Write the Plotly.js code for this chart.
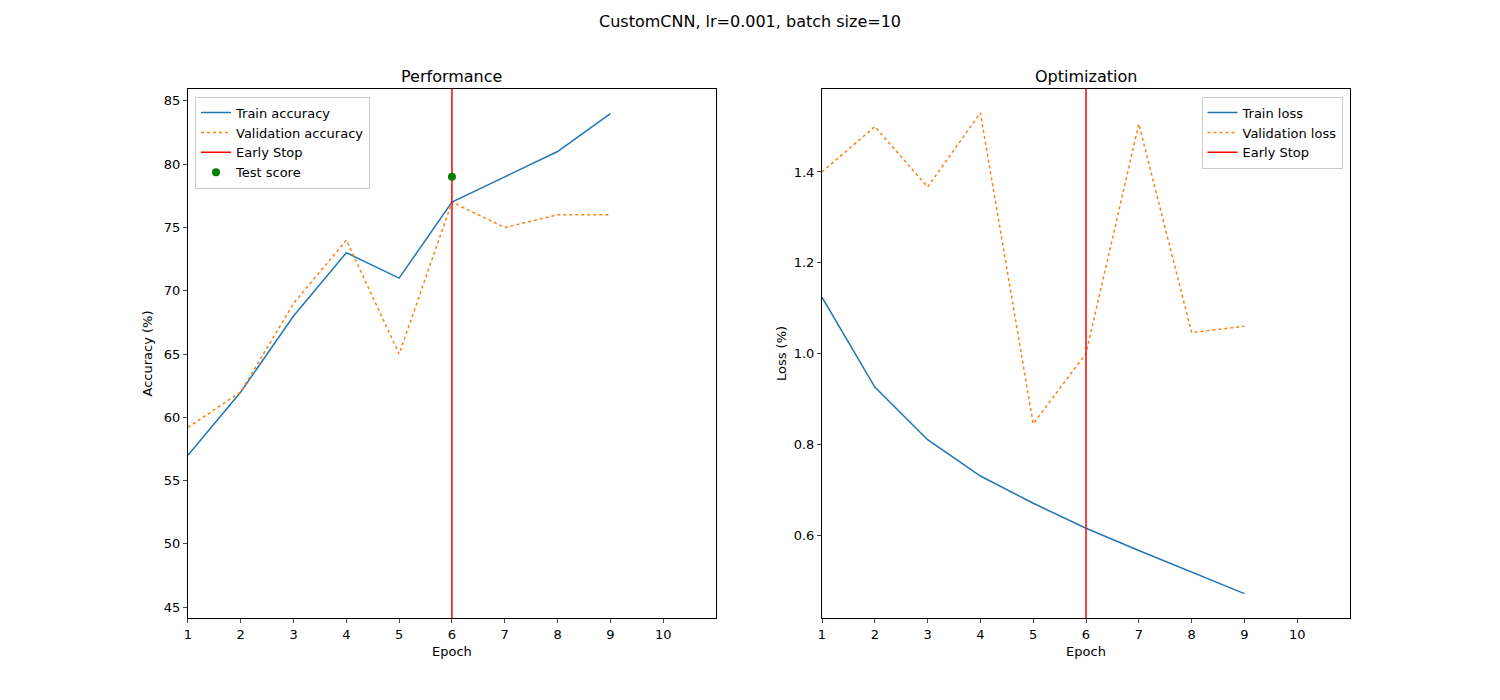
<!DOCTYPE html>
<html><head><script src="https://cdn.plot.ly/plotly-3.0.1.min.js"></script></head>
<body style="margin:0"><div id="chart" style="width:1500px;height:700px"></div>
<script>
var epochs = [1, 2, 3, 4, 5, 6, 7, 8, 9];
var trainAcc = [57, 62, 68, 73, 71, 77, 79, 81, 84];
var valAcc = [59.2, 62, 69, 74, 65, 77, 75, 76, 76];
var trainLoss = [1.124, 0.926, 0.81, 0.73, 0.67, 0.615, 0.566, 0.519, 0.471];
var valLoss = [1.40, 1.50, 1.367, 1.53, 0.845, 1.0, 1.506, 1.046, 1.06];
var earlyStop = 6;
var testScore = 79;

var blue = '#1f77b4', orange = '#ff7f0e';
var data = [
  {x: epochs, y: trainAcc, name: 'Train accuracy', mode: 'lines', line: {color: blue, width: 1.5}, legend: 'legend'},
  {x: epochs, y: valAcc, name: 'Validation accuracy', mode: 'lines', line: {color: orange, width: 1.5, dash: 'dot'}, legend: 'legend'},
  {x: [earlyStop, earlyStop], y: [40, 90], name: 'Early Stop', mode: 'lines', line: {color: 'red', width: 1.5}, legend: 'legend'},
  {x: [earlyStop], y: [testScore], name: 'Test score', mode: 'markers', marker: {color: 'green', size: 8}, legend: 'legend'},
  {x: epochs, y: trainLoss, name: 'Train loss', mode: 'lines', line: {color: blue, width: 1.5}, xaxis: 'x2', yaxis: 'y2', legend: 'legend2'},
  {x: epochs, y: valLoss, name: 'Validation loss', mode: 'lines', line: {color: orange, width: 1.5, dash: 'dot'}, xaxis: 'x2', yaxis: 'y2', legend: 'legend2'},
  {x: [earlyStop, earlyStop], y: [0, 2], name: 'Early Stop', mode: 'lines', line: {color: 'red', width: 1.5}, xaxis: 'x2', yaxis: 'y2', legend: 'legend2'}
];
var ax = {showgrid: false, zeroline: false, showline: true, mirror: true, linecolor: 'black', ticks: 'outside', ticklen: 4, tickfont: {size: 13}};
var xticks = [1,2,3,4,5,6,7,8,9,10];
var leg = {bgcolor: 'white', bordercolor: '#ccc', borderwidth: 1, font: {size: 13}, tracegroupgap: 0};
var layout = {
  font: {family: 'DejaVu Sans', color: 'black'},
  margin: {l: 0, r: 0, t: 0, b: 0},
  paper_bgcolor: 'white', plot_bgcolor: 'white',
  showlegend: true,
  title: {text: 'CustomCNN, lr=0.001, batch size=10', x: 0.5, y: 0.969, yanchor: 'middle', font: {size: 16}},
  xaxis: Object.assign({}, ax, {domain: [0.1253, 0.4773], range: [1, 11], tickvals: xticks, title: {text: 'Epoch', font: {size: 13}, standoff: 6}}),
  yaxis: Object.assign({}, ax, {domain: [0.117, 0.873], range: [44.13, 85.95], dtick: 5, title: {text: 'Accuracy (%)', font: {size: 13}}}),
  xaxis2: Object.assign({}, ax, {anchor: 'y2', domain: [0.548, 0.9], range: [1, 11], tickvals: xticks, title: {text: 'Epoch', font: {size: 13}, standoff: 6}}),
  yaxis2: Object.assign({}, ax, {anchor: 'x2', domain: [0.117, 0.873], range: [0.417, 1.583], dtick: 0.2, tickformat: '.1f', title: {text: 'Loss (%)', font: {size: 13}}}),
  legend: Object.assign({}, leg, {x: 0.1300, y: 0.862, xanchor: 'left', yanchor: 'top'}),
  legend2: Object.assign({}, leg, {x: 0.895, y: 0.862, xanchor: 'right', yanchor: 'top'}),
  annotations: [
    {text: 'Performance', xref: 'paper', yref: 'paper', x: 0.3013, y: 0.875, xanchor: 'center', yanchor: 'bottom', showarrow: false, font: {size: 16}},
    {text: 'Optimization', xref: 'paper', yref: 'paper', x: 0.724, y: 0.875, xanchor: 'center', yanchor: 'bottom', showarrow: false, font: {size: 16}}
  ]
};
Plotly.newPlot('chart', data, layout, {displayModeBar: false});
</script></body></html>
